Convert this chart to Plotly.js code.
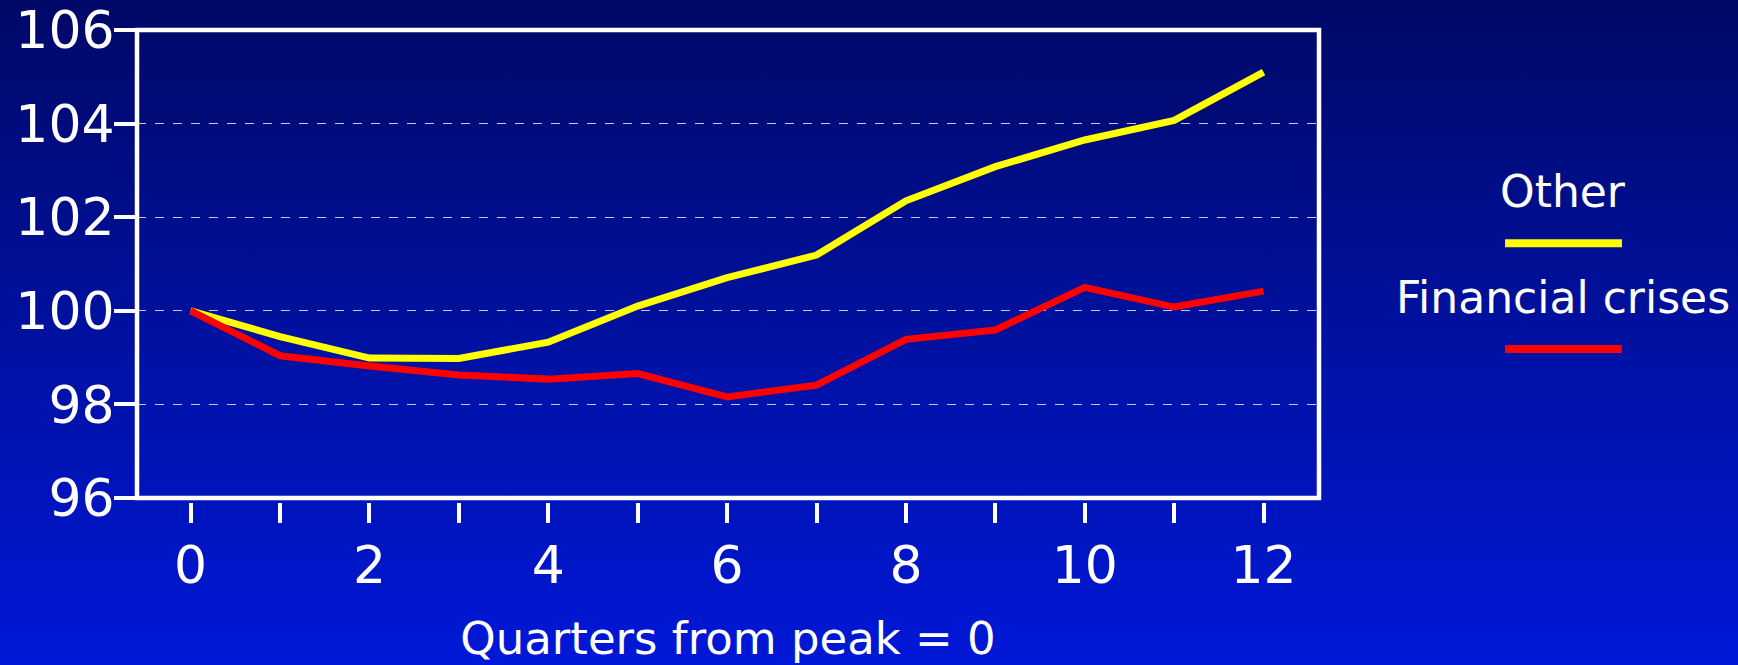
<!DOCTYPE html>
<html><head><meta charset="utf-8">
<script src="https://cdn.plot.ly/plotly-3.0.1.min.js"></script>
<style>
html,body{margin:0;padding:0;width:1738px;height:665px;overflow:hidden;background:linear-gradient(to bottom,#000866 0%,#0011a0 50%,#0018d8 100%);}
#chart{width:1738px;height:665px;}
</style></head><body><div id="chart"></div>
<script>
const quarters = [0,1,2,3,4,5,6,7,8,9,10,11,12];
const xTickLabels = ["0","","2","","4","","6","","8","","10","","12"];
const otherValues = [100,99.45,98.99,98.98,99.33,100.10,100.71,101.19,102.35,103.08,103.65,104.07,105.10];
const crisisValues = [100,99.04,98.82,98.63,98.54,98.66,98.16,98.41,99.39,99.59,100.50,100.08,100.42];
const seriesNames = ["Other","Financial crises"];
const seriesColors = ["#ffff00","#ff0000"];
const yTickVals = [96,98,100,102,104,106];
const xTitle = "Quarters from peak = 0";

const FONT = "Verdana, 'DejaVu Sans', sans-serif";

const traces = [otherValues, crisisValues].map((vals,i)=>({
  x: quarters, y: vals, type:'scatter', mode:'lines', name: seriesNames[i],
  line:{color: seriesColors[i], width:7}, showlegend:false, hoverinfo:'skip'
}));

const legendText = [{y:0.657},{y:0.434}];
const legendLine = [0.548,0.324];

const layout = {
  width:1738, height:665,
  paper_bgcolor:'rgba(0,0,0,0)', plot_bgcolor:'rgba(0,0,0,0)',
  margin:{l:137,r:419,t:30,b:163,autoexpand:false},
  font:{family:FONT,color:'#ffffff'},
  xaxis:{
    range:[-0.6,12.62], anchor:'free', position:0,
    tickmode:'array', tickvals:quarters, ticktext:xTickLabels,
    ticks:'outside', ticklen:20, tickwidth:4, tickcolor:'#ffffff',
    showline:false, showgrid:false, zeroline:false,
    tickfont:{size:52,color:'#ffffff',family:FONT},
    ticklabelstandoff:-2,
    title:{text:xTitle, font:{size:45,color:'#ffffff',family:FONT}, standoff:32},
    automargin:false
  },
  yaxis:{
    range:[96,106], domain:[0.0085,1],
    tickmode:'array', tickvals:yTickVals,
    ticks:'outside', ticklen:22, tickwidth:4, tickcolor:'#ffffff',
    showline:false, zeroline:false,
    showgrid:true, gridcolor:'rgba(210,210,230,0.95)', gridwidth:1.4, griddash:'dash',
    tickfont:{size:52,color:'#ffffff',family:FONT},
    ticklabelstandoff:-11,
    automargin:false
  },
  shapes:[
    {type:'rect', xref:'x domain', yref:'y domain', x0:0,x1:1,y0:0,y1:1, line:{color:'#ffffff',width:4.5}, layer:'above'},
    {type:'line', xref:'paper', yref:'paper', x0:1.1574, x1:1.2563, y0:legendLine[0], y1:legendLine[0], line:{color:seriesColors[0],width:8}},
    {type:'line', xref:'paper', yref:'paper', x0:1.1574, x1:1.2563, y0:legendLine[1], y1:legendLine[1], line:{color:seriesColors[1],width:8}}
  ],
  annotations: seriesNames.map((n,i)=>({
    text:n, xref:'paper', yref:'paper', x:1.2064, y:legendText[i].y,
    xanchor:'center', yanchor:'middle', showarrow:false,
    font:{size:44,color:'#ffffff',family:FONT}
  }))
};

Plotly.newPlot('chart', traces, layout, {displayModeBar:false, staticPlot:true});
</script></body></html>
